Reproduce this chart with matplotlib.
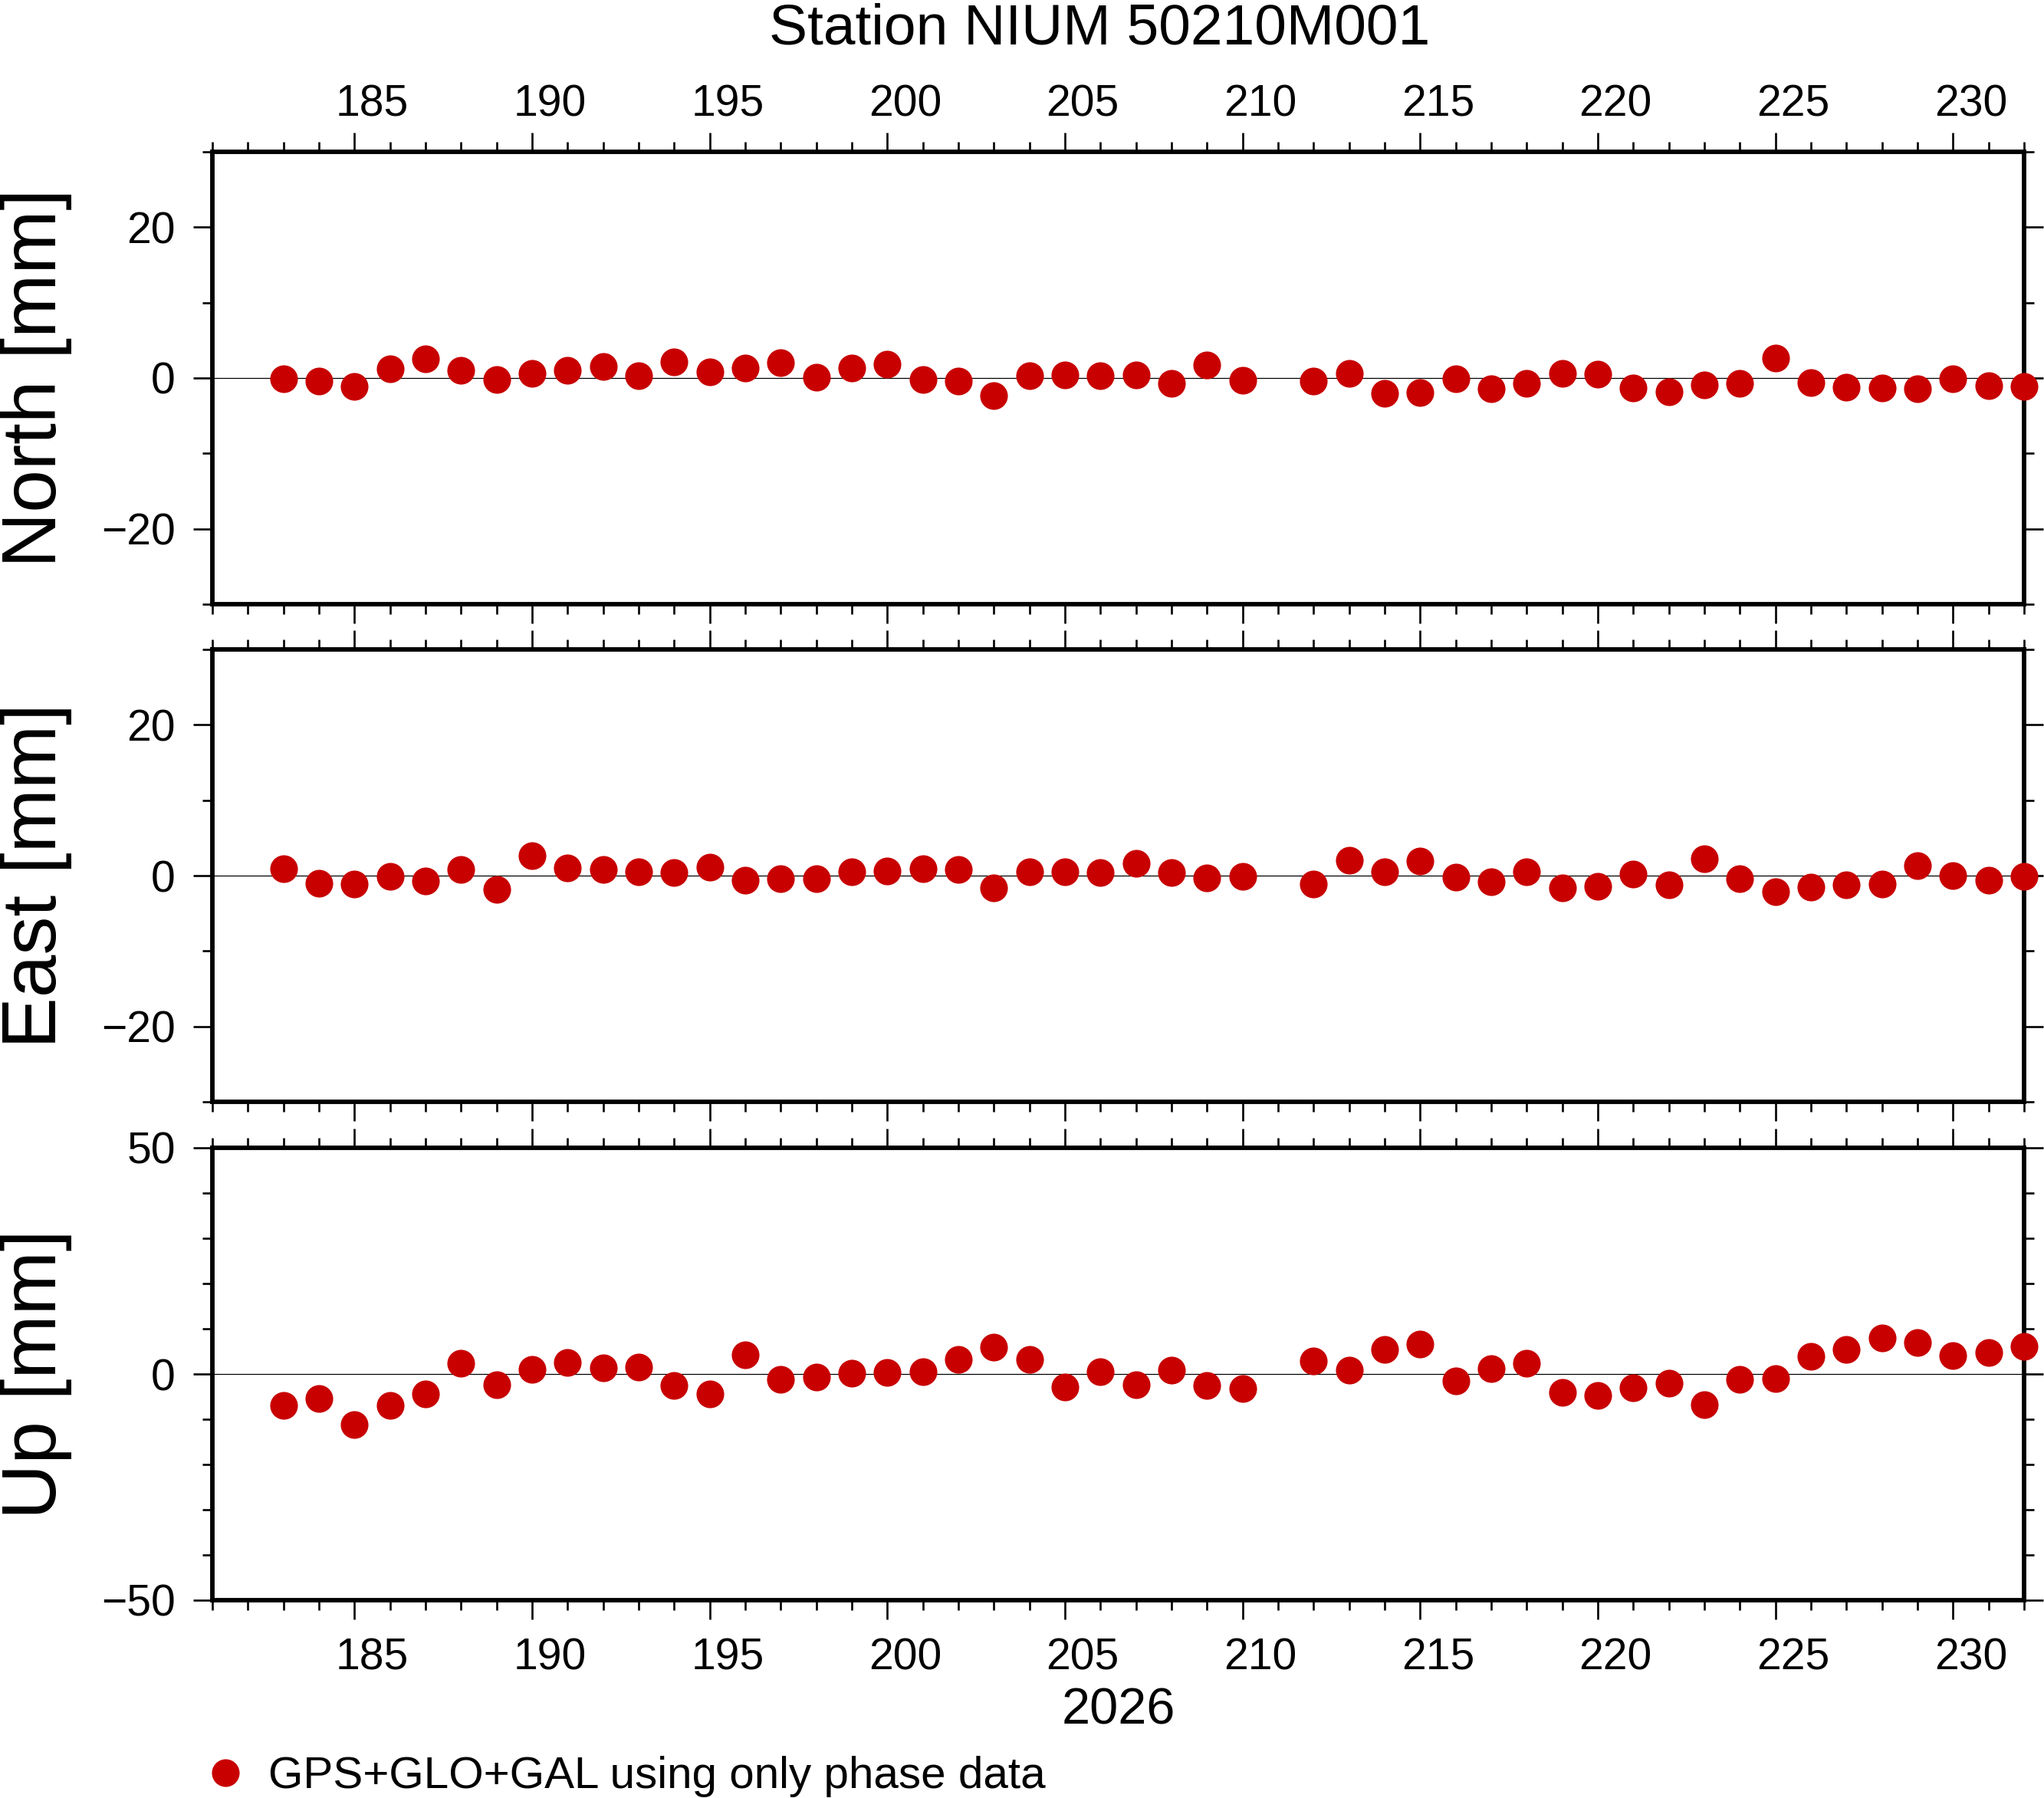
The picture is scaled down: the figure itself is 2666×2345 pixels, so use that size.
#Station coordinate residuals - North / East / Up
import numpy as np
import matplotlib
matplotlib.use('Agg')
import matplotlib.pyplot as plt
from matplotlib.ticker import MultipleLocator

plt.rcParams['font.family'] = ['Liberation Sans', 'DejaVu Sans']

# day of year 2026 (no solution on 211)
days = [183, 184, 185, 186, 187, 188, 189, 190, 191, 192, 193, 194, 195, 196,
        197, 198, 199, 200, 201, 202, 203, 204, 205, 206, 207, 208, 209, 210,
        212, 213, 214, 215, 216, 217, 218, 219, 220, 221, 222, 223, 224, 225,
        226, 227, 228, 229, 230, 231, 232]

north = [-0.1, -0.4, -1.1, 1.2, 2.5, 1.0, -0.2, 0.6, 1.0, 1.5, 0.3, 2.1, 0.8, 1.3,
         2.0, 0.1, 1.3, 1.8, -0.2, -0.4, -2.3, 0.3, 0.4, 0.3, 0.4, -0.7, 1.7, -0.3,
         -0.4, 0.6, -2.0, -1.9, -0.1, -1.4, -0.7, 0.6, 0.5, -1.3, -1.8, -0.9, -0.7, 2.6,
         -0.6, -1.2, -1.3, -1.4, -0.1, -1.0, -1.1]

east = [0.9, -1.0, -1.1, -0.1, -0.7, 0.8, -1.8, 2.6, 1.0, 0.8, 0.5, 0.4, 1.1, -0.6,
        -0.4, -0.4, 0.5, 0.6, 0.9, 0.8, -1.6, 0.5, 0.5, 0.4, 1.6, 0.4, -0.3, -0.1,
        -1.1, 2.0, 0.5, 1.9, -0.2, -0.8, 0.5, -1.6, -1.4, 0.2, -1.2, 2.2, -0.4, -2.1,
        -1.5, -1.2, -1.1, 1.3, 0.0, -0.6, -0.1]

up = [-7.0, -5.4, -11.2, -7.0, -4.4, 2.4, -2.4, 1.0, 2.5, 1.4, 1.5, -2.5, -4.4, 4.2,
      -1.2, -0.7, 0.2, 0.3, 0.5, 3.2, 5.9, 3.2, -2.9, 0.5, -2.4, 0.8, -2.5, -3.2,
      2.9, 0.8, 5.4, 6.6, -1.5, 1.2, 2.4, -4.1, -4.8, -3.0, -2.0, -6.8, -1.2, -1.0,
      3.9, 5.4, 8.0, 7.0, 4.1, 4.8, 6.1]

components = ['North [mm]', 'East [mm]', 'Up [mm]']
series = [north, east, up]
ylims = [30, 30, 50]
ymajor = [20, 20, 50]

day_labels = [185, 190, 195, 200, 205, 210, 215, 220, 225, 230]

title = 'Station NIUM 50210M001'
year = '2026'
legend_text = 'GPS+GLO+GAL using only phase data'
red = '#c80000'

W, H = 2666, 2345
fig = plt.figure(figsize=(W/100., H/100.), dpi=100)

# panel boxes in pixels: left, top, width, height
left_px = 277
width_px = 2363
tops_px = [198, 847, 1497]
height_px = 590

axes = []
for i in range(3):
    b = (H - tops_px[i] - height_px)/float(H)
    ax = fig.add_axes([left_px/float(W), b, width_px/float(W), height_px/float(H)])
    axes.append(ax)

    ax.axhline(0, color='black', lw=0.9, zorder=1)
    h, = ax.plot(days, series[i], 'o', color=red, ms=26, mec='none',
                 clip_on=False, zorder=4, label=legend_text)

    ax.set_xlim(181, 232)
    ax.set_ylim(-ylims[i], ylims[i])
    ax.xaxis.set_major_locator(MultipleLocator(5))
    ax.xaxis.set_minor_locator(MultipleLocator(1))
    ax.yaxis.set_major_locator(MultipleLocator(ymajor[i]))
    ax.yaxis.set_minor_locator(MultipleLocator(10))

    ax.tick_params(which='both', direction='out', top=True, right=True,
                   width=1.9, color='black')
    ax.tick_params(which='major', length=17.8)
    ax.tick_params(which='minor', length=9.4)
    ax.tick_params(axis='x', which='both', labelbottom=False, labeltop=False)
    ax.tick_params(axis='y', labelsize=41, pad=16.8)

    for s in ax.spines.values():
        s.set_linewidth(4.2)

    # y axis title at the left border of the figure
    yc = 1 - (tops_px[i] + height_px/2.)/H
    fig.text(0.0, yc, components[i], rotation=90, ha='left', va='center',
             fontsize=72)

# day labels sit in the middle of the day interval
lab_pos = [d + 0.5 for d in day_labels]
lab_txt = [str(d) for d in day_labels]

sec_top = axes[0].secondary_xaxis('top')
sec_top.set_xticks(lab_pos, labels=lab_txt)
sec_top.tick_params(length=0, pad=24.5, labelsize=41)

sec_bot = axes[2].secondary_xaxis('bottom')
sec_bot.set_xticks(lab_pos, labels=lab_txt)
sec_bot.tick_params(length=0, pad=35, labelsize=41)
sec_bot.set_xlabel(year, fontsize=48, labelpad=8)

for sec in (sec_top, sec_bot):
    for s in sec.spines.values():
        s.set_visible(False)

fig.text(1434./W, 1 - 58./H, title, ha='center', va='baseline', fontsize=54)

fig.legend(handles=[h], labels=[legend_text], loc='center left',
           bbox_to_anchor=(271./W, 1 - 2317./H), frameon=False,
           borderpad=0, borderaxespad=0, handlelength=0.8, handletextpad=0.55,
           numpoints=1, fontsize=42)

plt.savefig('out.png', dpi=100)
